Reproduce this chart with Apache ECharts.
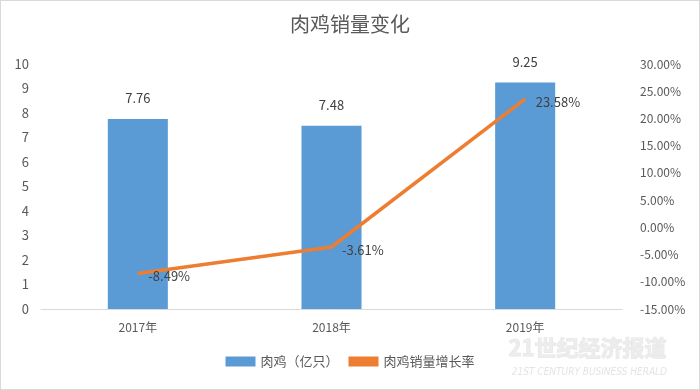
<!DOCTYPE html>
<html><head><meta charset="utf-8">
<script src="https://cdn.jsdelivr.net/npm/echarts@6/dist/echarts.min.js"></script>
<style>html,body{margin:0;padding:0;background:#fff}#c{width:700px;height:390px;box-sizing:border-box;border:1px solid #d9d9d9}</style>
</head><body><div id="c"></div>
<script>
const categories = ['2017年', '2018年', '2019年'];
const salesValues = [7.76, 7.48, 9.25];
const growthValues = [-8.49, -3.61, 23.58];
const leftTicks = [0, 10, 1];
const rightTicks = [-15, 30, 5];
const title = '肉鸡销量变化';
const seriesNames = ['肉鸡（亿只）', '肉鸡销量增长率'];

const font = '"Microsoft YaHei","Noto Sans CJK SC","Open Sans",sans-serif';
const chart = echarts.init(document.getElementById('c'));
chart.setOption({
  animation: false,
  textStyle: {fontFamily: font},
  title: {text: title, left: 'center', top: 8, textStyle: {fontSize: 20, fontWeight: 'normal', color: '#595959', fontFamily: font}},
  grid: {left: 40, right: 77, top: 63, bottom: 80},
  legend: {
    bottom: 16, left: 'center', itemGap: 10,
    textStyle: {fontSize: 13, color: '#595959'},
    data: [
      {name: seriesNames[0], icon: 'rect', itemStyle: {color: '#5B9BD5'}},
      {name: seriesNames[1], icon: 'rect', itemStyle: {color: '#ED7D31'}}
    ],
    itemWidth: 30, itemHeight: 10
  },
  xAxis: {
    type: 'category', data: categories,
    axisLine: {lineStyle: {color: '#d9d9d9'}}, axisTick: {show: false},
    axisLabel: {color: '#595959', fontSize: 12, margin: 12}
  },
  yAxis: [
    {type: 'value', min: leftTicks[0], max: leftTicks[1], interval: leftTicks[2],
     splitLine: {show: false}, axisLine: {show: false}, axisTick: {show: false},
     axisLabel: {color: '#595959', fontSize: 13, margin: 12}},
    {type: 'value', min: rightTicks[0], max: rightTicks[1], interval: rightTicks[2],
     splitLine: {show: false}, axisLine: {show: false}, axisTick: {show: false},
     axisLabel: {color: '#595959', fontSize: 12, margin: 18, formatter: v => v.toFixed(2) + '%'}}
  ],
  series: [
    {name: seriesNames[0], type: 'bar', data: salesValues, barWidth: '31%',
     itemStyle: {color: '#5B9BD5'},
     label: {show: true, position: 'top', distance: 14, color: '#404040', fontSize: 13}},
    {name: seriesNames[1], type: 'line', yAxisIndex: 1, data: growthValues,
     symbol: 'circle', symbolSize: 1, showSymbol: true,
     lineStyle: {color: '#ED7D31', width: 3.5}, itemStyle: {color: '#ED7D31'},
     label: {show: true, position: 'right', distance: 10, color: '#404040', fontSize: 13,
             formatter: p => p.value.toFixed(2) + '%', offset: [0, 3]}}
  ],
  graphic: [
    {type: 'text', right: 32, bottom: 30, style: {text: '21世纪经济报道', fill: 'rgba(235,235,235,0.9)', font: 'bold 22px "Noto Sans CJK SC"', stroke: 'rgba(215,215,215,0.6)', lineWidth: 1}},
    {type: 'text', right: 32, bottom: 12, style: {text: '21ST CENTURY BUSINESS HERALD', fill: 'rgba(225,225,225,0.9)', font: 'italic 10px "DejaVu Sans Condensed"'}}
  ]
});
</script></body></html>
